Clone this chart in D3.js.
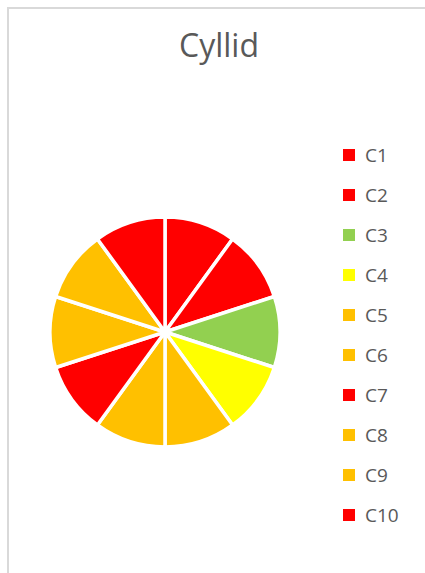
<!DOCTYPE html>
<html>
<head>
<meta charset="utf-8">
<script src="https://cdn.jsdelivr.net/npm/d3@7"></script>
<style>
  body { margin: 0; background: #fff; }
  svg { display: block; }
</style>
</head>
<body>
<script>
// Chart data
const categories = ["C1", "C2", "C3", "C4", "C5", "C6", "C7", "C8", "C9", "C10"];
const values = [1, 1, 1, 1, 1, 1, 1, 1, 1, 1];
const sliceColors = ["#ff0000", "#ff0000", "#92d050", "#ffff00", "#ffc000",
                     "#ffc000", "#ff0000", "#ffc000", "#ffc000", "#ff0000"];
const chartTitle = "Cyllid";

let width = 425, height = 573;

let svg = d3.select("body").append("svg")
    .attr("width", width)
    .attr("height", height);

// Chart frame (runs off the right and bottom edges)
svg.append("rect")
    .attr("x", 8)
    .attr("y", 8)
    .attr("width", 440)
    .attr("height", 600)
    .attr("fill", "#fff")
    .attr("stroke", "#d9d9d9")
    .attr("stroke-width", 2);

// Title
svg.append("text")
    .attr("x", 219)
    .attr("y", 57)
    .attr("text-anchor", "middle")
    .style("font-family", "'Open Sans', sans-serif")
    .style("font-size", "32px")
    .style("fill", "#595959")
    .text(chartTitle);

// Pie
let pie = d3.pie().sort(null).value(function(d) { return d; });
let arc = d3.arc().innerRadius(0).outerRadius(115);
let color = d3.scaleOrdinal().domain(categories).range(sliceColors);

let g = svg.append("g")
    .attr("transform", "translate(165,332)");

g.selectAll("path")
    .data(pie(values))
  .enter().append("path")
    .attr("d", arc)
    .attr("fill", function(d, i) { return color(categories[i]); })
    .attr("stroke", "#fff")
    .attr("stroke-width", 3.5)
    .attr("stroke-linejoin", "round");

// Legend
let legendY = d3.scalePoint().domain(categories).range([155, 515]);

let legend = svg.append("g").selectAll("g")
    .data(categories)
  .enter().append("g")
    .attr("transform", function(c) { return "translate(343," + legendY(c) + ")"; });

legend.append("rect")
    .attr("x", 0)
    .attr("y", -6)
    .attr("width", 12)
    .attr("height", 12)
    .attr("fill", function(c) { return color(c); });

legend.append("text")
    .attr("x", 22)
    .attr("y", 0)
    .attr("dy", "0.35em")
    .style("font-family", "'Open Sans', sans-serif")
    .style("font-size", "19px")
    .style("fill", "#595959")
    .text(function(c) { return c; });
</script>
</body>
</html>
